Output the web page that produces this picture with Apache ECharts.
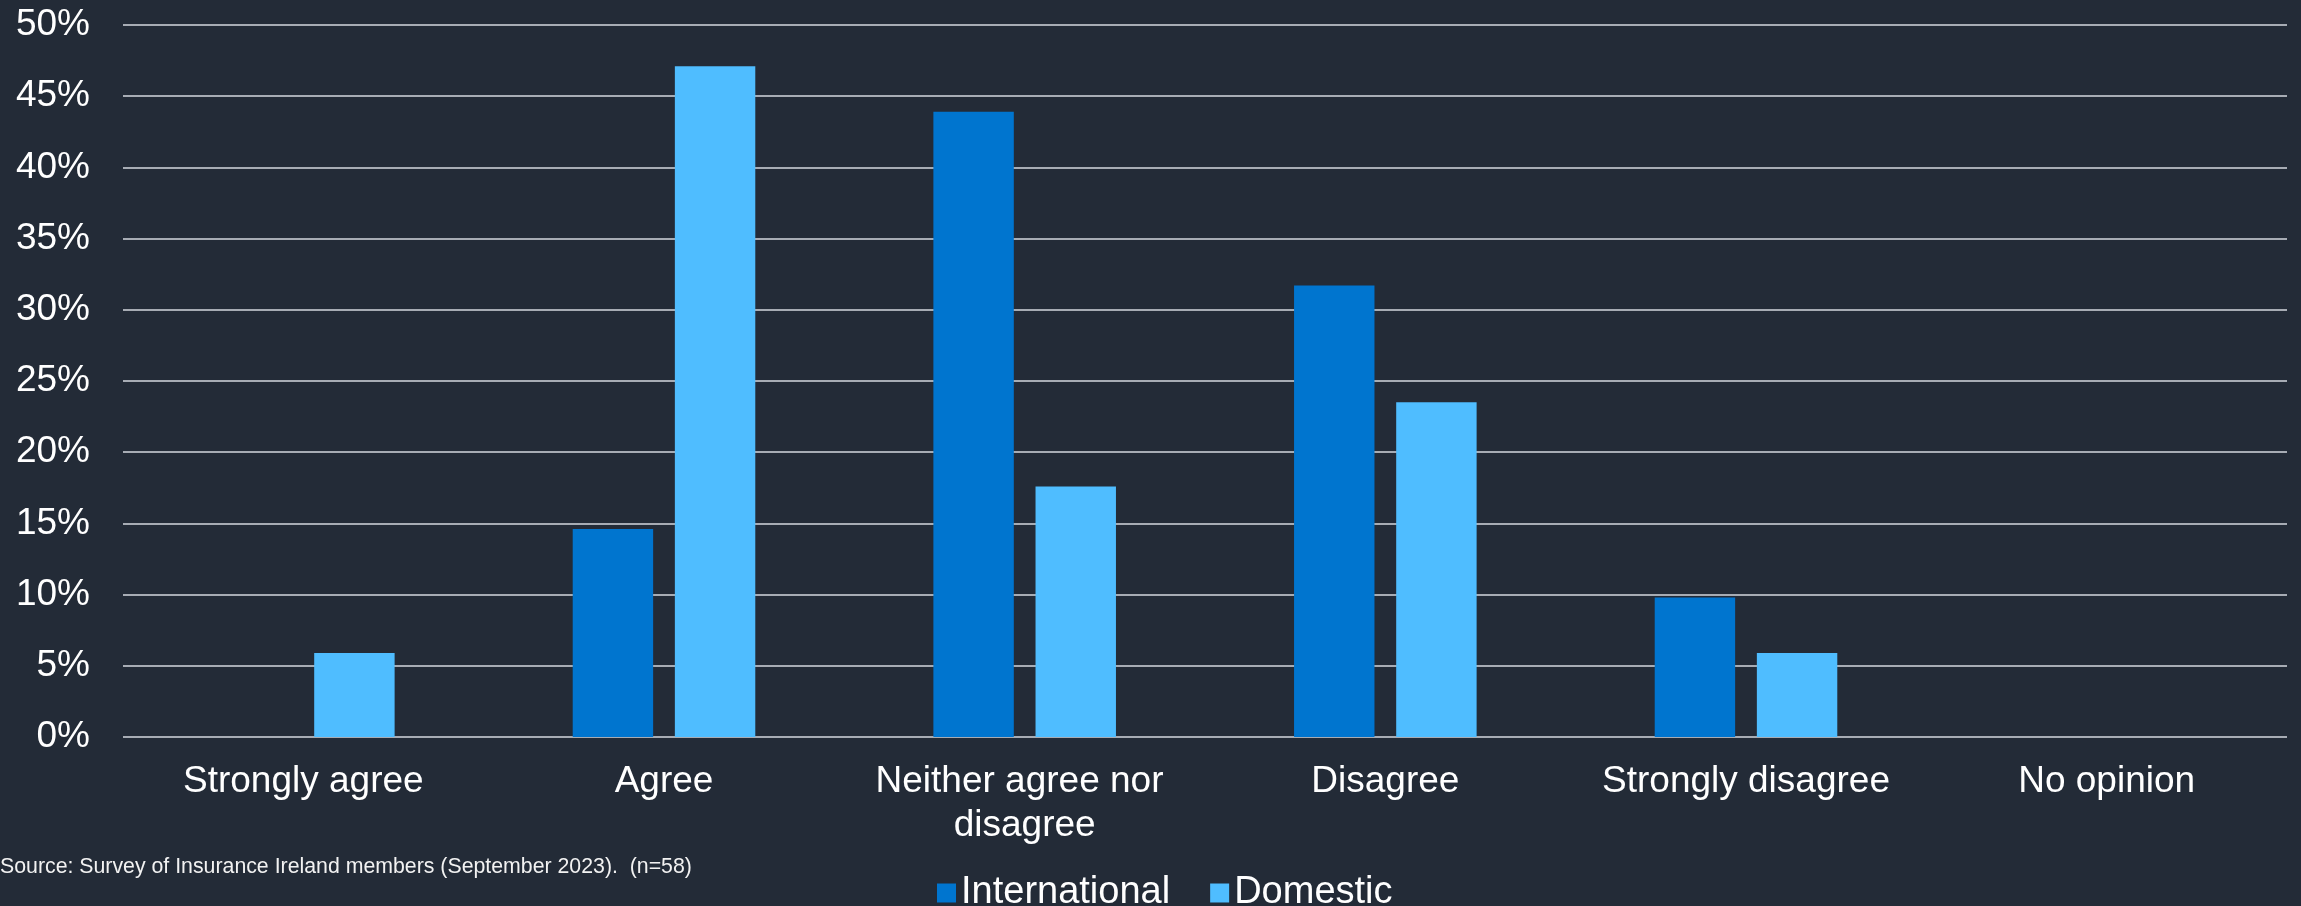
<!DOCTYPE html>
<html>
<head>
<meta charset="utf-8">
<script src="https://cdn.jsdelivr.net/npm/echarts@6/dist/echarts.min.js"></script>
<style>
  html, body { margin: 0; padding: 0; background: #232b37; }
  #chart { width: 2301px; height: 906px; }
</style>
</head>
<body>
<div id="chart"></div>
<script>
// Survey responses by member type, share of respondents (%)
const categories = ['Strongly agree', 'Agree', 'Neither agree nor disagree', 'Disagree', 'Strongly disagree', 'No opinion'];
const international = [0, 14.6, 43.9, 31.7, 9.8, 0];
const domestic = [5.9, 47.1, 17.6, 23.5, 5.9, 0];
const seriesNames = ['International', 'Domestic'];
const sourceNote = 'Source: Survey of Insurance Ireland members (September 2023).  (n=58)';

const FONT = '"Liberation Sans", Arial, sans-serif';
const chart = echarts.init(document.getElementById('chart'), null, { renderer: 'canvas' });

chart.setOption({
  backgroundColor: '#232b37',
  animation: false,
  textStyle: { fontFamily: FONT },
  grid: { left: 123, right: 14, top: 25, bottom: 169, containLabel: false },
  legend: {
    data: seriesNames,
    left: 932,
    top: 869,
    icon: 'rect',
    itemWidth: 19,
    itemHeight: 19,
    itemGap: 40,
    textStyle: { color: '#ffffff', fontSize: 38, fontFamily: FONT }
  },
  xAxis: {
    type: 'category',
    data: categories,
    axisTick: { show: false },
    axisLine: { show: false },
    axisLabel: {
      interval: 0,
      color: '#ffffff',
      fontSize: 37,
      lineHeight: 44,
      margin: 23,
      width: 340,
      overflow: 'break',
      fontFamily: FONT
    }
  },
  yAxis: {
    type: 'value',
    min: 0,
    max: 50,
    interval: 5,
    axisLine: { show: false },
    axisTick: { show: false },
    axisLabel: {
      formatter: '{value}%',
      color: '#ffffff',
      fontSize: 37,
      margin: 33,
      fontFamily: FONT
    },
    splitLine: { lineStyle: { color: '#d5d9df', width: 1.5 } }
  },
  series: [
    {
      name: seriesNames[0],
      type: 'bar',
      data: international,
      barWidth: '22.3%',
      barGap: '27%',
      itemStyle: { color: '#0075cf' }
    },
    {
      name: seriesNames[1],
      type: 'bar',
      data: domestic,
      barWidth: '22.3%',
      barGap: '27%',
      itemStyle: { color: '#4fbdff' }
    }
  ],
  graphic: [
    {
      type: 'text',
      left: 0,
      top: 857,
      style: {
        text: sourceNote,
        fill: '#f2f2f2',
        fontSize: 21.3,
        fontFamily: FONT
      }
    }
  ]
});
</script>
</body>
</html>
